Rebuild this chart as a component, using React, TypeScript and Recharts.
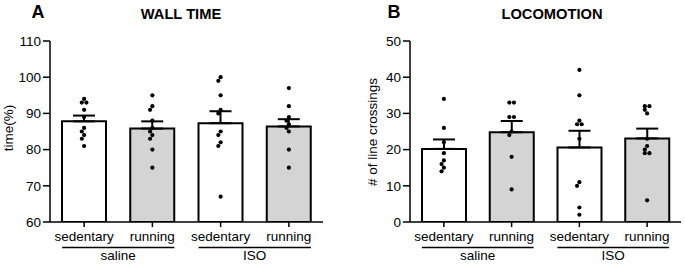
import React from "react";
import { ComposedChart, Bar, Cell, ErrorBar, Scatter, XAxis, YAxis } from "recharts";

const CONDITIONS = ["sedentary", "running", "sedentary", "running"];
const TREATMENTS = ["saline", "ISO"];

// A: wall time (%)
const WALL_MEAN = [87.8, 85.8, 87.3, 86.4];
const WALL_SEM = [1.6, 2.0, 3.3, 2.0];
const WALL_SED_SALINE = [94, 93, 93, 91, 89, 86, 85, 84, 83, 81];
const WALL_RUN_SALINE = [95, 92, 91, 88, 86, 85, 84, 83, 80, 75];
const WALL_SED_ISO = [100, 99, 95, 91, 90, 85, 84, 82, 81, 67];
const WALL_RUN_ISO = [97, 92, 89, 88, 87, 86, 85, 80, 75];
const WALL_TICKS = [60, 70, 80, 90, 100, 110];

// B: locomotion (# of line crossings)
const LOCO_MEAN = [20.2, 24.8, 20.6, 23.1];
const LOCO_SEM = [2.6, 3.1, 4.6, 2.7];
const LOCO_SED_SALINE = [34, 26, 22, 19, 17, 16, 15, 14];
const LOCO_RUN_SALINE = [33, 33, 29, 29, 25, 24, 18, 9];
const LOCO_SED_ISO = [42, 35, 28, 27, 27, 23, 11, 10, 4, 2];
const LOCO_RUN_ISO = [32, 32, 31, 30, 23, 21, 20, 19, 19, 6];
const LOCO_TICKS = [0, 10, 20, 30, 40, 50];

const FONT = "'Liberation Sans', Arial, sans-serif";
const FILLS = ["#ffffff", "#d4d4d4", "#ffffff", "#d4d4d4"];
const HEIGHT = 268;
const TOP = 41;
const XAXIS_H = 46;
const PLOT_H = HEIGHT - TOP - XAXIS_H;
const BAR_SIZE = 44;
const DOT_R = 2.1;

// simple beeswarm: returns horizontal offsets in px
function swarm(values: number[], pxPerUnit: number): number[] {
  const step = 2.3;
  const minDist = DOT_R * 2;
  const order = values.map((v, i) => i).sort((a, b) => values[b] - values[a]);
  const placed: { x: number; y: number }[] = [];
  const offs: number[] = new Array(values.length).fill(0);
  for (const i of order) {
    const y = values[i] * pxPerUnit;
    const cands = [0];
    for (let k = 1; k < 8; k++) cands.push(-k * step, k * step);
    for (const c of cands) {
      if (placed.every((p) => Math.hypot(p.x - c, p.y - y) >= minDist - 0.01)) {
        offs[i] = c;
        placed.push({ x: c, y });
        break;
      }
    }
  }
  // center rows of identical values
  const seen = new Set<number>();
  values.forEach((v) => {
    if (seen.has(v)) return;
    seen.add(v);
    const idx = values.map((w, j) => (w === v ? j : -1)).filter((j) => j >= 0);
    if (idx.length < 2) return;
    const sorted = idx.map((j) => offs[j]).sort((a, b) => a - b);
    const mid = (sorted[0] + sorted[sorted.length - 1]) / 2;
    idx.forEach((j) => (offs[j] -= mid));
  });
  return offs;
}

interface PanelProps {
  left: number;
  width: number;
  yAxisWidth: number;
  rightMargin: number;
  means: number[];
  sems: number[];
  groups: number[][];
  ticks: number[];
}

function Panel({ left, width, yAxisWidth, rightMargin, means, sems, groups, ticks }: PanelProps) {
  const plotW = width - yAxisWidth - rightMargin;
  const bandPx = plotW / 4;
  const yMin = ticks[0];
  const yMax = ticks[ticks.length - 1];
  const pxPerUnit = PLOT_H / (yMax - yMin);

  const bars = means.map((m, i) => ({ cat: i, mean: m, err: [0, sems[i]] }));
  const dots = groups.flatMap((vals, i) => {
    const offs = swarm(vals, pxPerUnit);
    return vals.map((v, j) => ({ px: i + offs[j] / bandPx, y: v }));
  });

  const renderTick = (props: any) => {
    const { x, y, payload } = props;
    const i = payload.value as number;
    return (
      <g>
        <text x={x} y={y + 12} textAnchor="middle" fontSize={13.5} fill="#000" fontFamily={FONT}>
          {CONDITIONS[i]}
        </text>
        {i % 2 === 0 && (
          <>
            <line x1={x - 22} x2={x + bandPx + 22} y1={y + 18.5} y2={y + 18.5} stroke="#000" strokeWidth={1.5} />
            <text x={x + bandPx / 2} y={y + 31} textAnchor="middle" fontSize={13.5} fill="#000" fontFamily={FONT}>
              {TREATMENTS[i / 2]}
            </text>
          </>
        )}
      </g>
    );
  };

  return (
    <div style={{ position: "absolute", left, top: 0 }}>
      <ComposedChart
        width={width}
        height={HEIGHT}
        data={bars}
        margin={{ top: TOP, right: rightMargin, bottom: 0, left: 0 }}
        style={{ fontFamily: FONT }}
      >
        <XAxis
          xAxisId="cat"
          type="category"
          dataKey="cat"
          interval={0}
          height={XAXIS_H}
          tickSize={5}
          axisLine={{ stroke: "#000", strokeWidth: 1.5 }}
          tickLine={{ stroke: "#000", strokeWidth: 1.5 }}
          tick={renderTick}
        />
        <XAxis xAxisId="num" type="number" dataKey="px" domain={[-0.5, 3.5]} allowDataOverflow hide />
        <YAxis
          type="number"
          domain={[yMin, yMax]}
          ticks={ticks}
          interval={0}
          allowDataOverflow
          width={yAxisWidth}
          tickSize={7}
          axisLine={{ stroke: "#000", strokeWidth: 1.5 }}
          tickLine={{ stroke: "#000", strokeWidth: 1.5 }}
          tick={{ fill: "#000", fontSize: 13.5, fontFamily: FONT }}
        />
        <Bar xAxisId="cat" dataKey="mean" barSize={BAR_SIZE} stroke="#000" strokeWidth={2} isAnimationActive={false}>
          {bars.map((b, i) => (
            <Cell key={i} fill={FILLS[i]} />
          ))}
          <ErrorBar dataKey="err" width={11} stroke="#000" strokeWidth={2} direction="y" />
        </Bar>
        <Scatter
          xAxisId="num"
          data={dots}
          dataKey="y"
          isAnimationActive={false}
          shape={(p: any) => <circle cx={p.cx} cy={p.cy} r={DOT_R} fill="#000" />}
        />
      </ComposedChart>
    </div>
  );
}

export default function App() {
  return (
    <div
      style={{
        position: "absolute",
        left: 0,
        top: 0,
        width: 685,
        height: HEIGHT,
        background: "#fff",
        fontFamily: FONT,
      }}
    >
      <Panel
        left={0}
        width={340}
        yAxisWidth={50}
        rightMargin={17}
        means={WALL_MEAN}
        sems={WALL_SEM}
        groups={[WALL_SED_SALINE, WALL_RUN_SALINE, WALL_SED_ISO, WALL_RUN_ISO]}
        ticks={WALL_TICKS}
      />
      <Panel
        left={345}
        width={340}
        yAxisWidth={65}
        rightMargin={4}
        means={LOCO_MEAN}
        sems={LOCO_SEM}
        groups={[LOCO_SED_SALINE, LOCO_RUN_SALINE, LOCO_SED_ISO, LOCO_RUN_ISO]}
        ticks={LOCO_TICKS}
      />
      <svg width={685} height={HEIGHT} style={{ position: "absolute", left: 0, top: 0, pointerEvents: "none" }}>
        <g fontFamily={FONT} fill="#000">
          <text x={31.5} y={17.5} fontSize={18} fontWeight="bold">A</text>
          <text x={181} y={19.3} fontSize={14.7} fontWeight="bold" textAnchor="middle">WALL TIME</text>
          <text x={13} y={128} fontSize={13.5} textAnchor="middle" transform="rotate(-90 13 128)">time(%)</text>
          <text x={387.5} y={17.5} fontSize={18} fontWeight="bold">B</text>
          <text x={552} y={19.3} fontSize={14.7} fontWeight="bold" textAnchor="middle">LOCOMOTION</text>
          <text x={377} y={132} fontSize={13.5} textAnchor="middle" transform="rotate(-90 377 132)"># of line crossings</text>
        </g>
      </svg>
    </div>
  );
}
